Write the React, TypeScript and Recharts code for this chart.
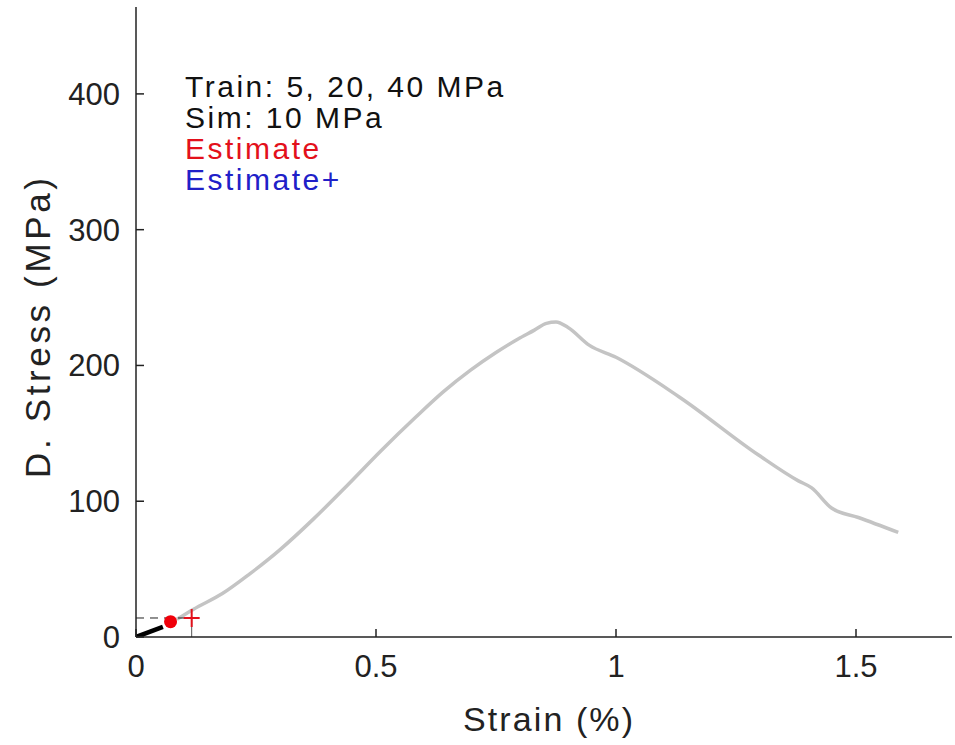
import { ComposedChart, Line, Scatter, XAxis, YAxis } from "recharts";

// curva gris (simulación)
const simStrain = [0.085, 0.12, 0.18, 0.237, 0.299, 0.37, 0.441, 0.51, 0.583, 0.64, 0.697, 0.75, 0.796, 0.83, 0.855, 0.875, 0.9, 0.944, 1.0, 1.131, 1.297, 1.38, 1.407, 1.449, 1.505, 1.588];
const simStress = [13, 20.5, 32, 46.5, 64, 87, 112, 137, 162, 180.5, 196.5, 209.5, 219.5, 226, 231, 232, 228, 215, 206, 177, 134, 115, 110, 95, 88, 77];

// tramo negro de entrenamiento
const trainStrain = [0, 0.056];
const trainStress = [0, 7.4];

// marcadores
const estimate = [{ x: 0.072, y: 11.3 }];
const estimatePlus = [{ x: 0.116, y: 14 }];

// líneas guía
const hGuide = [{ x: 0, y: 14 }, { x: 0.116, y: 14 }];
const vGuide = [{ x: 0.116, y: 0 }, { x: 0.116, y: 14 }];

const xTicks = [0, 0.5, 1, 1.5];
const yTicks = [0, 100, 200, 300, 400];

const simData = simStrain.map((x, i) => ({ x, y: simStress[i] }));
const trainData = trainStrain.map((x, i) => ({ x, y: trainStress[i] }));

const FONT = "'Liberation Sans', Arial, sans-serif";

const PlusShape = (props: any) => {
    const { cx, cy } = props;
    return (
        <g stroke="#e3101b" strokeWidth={2}>
            <line x1={cx - 8} y1={cy} x2={cx + 8} y2={cy} />
            <line x1={cx} y1={cy - 9} x2={cx} y2={cy + 9} />
        </g>
    );
};

const DotShape = (props: any) => {
    const { cx, cy } = props;
    return <circle cx={cx} cy={cy} r={6.5} fill="#f0000a" />;
};

const YTitle = ({ viewBox }: any) => {
    const cx = 37;
    const cy = viewBox.y + viewBox.height / 2 + 6;
    return (
        <text x={cx} y={cy} transform={`rotate(-90 ${cx} ${cy})`} textAnchor="middle" dominantBaseline="central" fontSize={35} fill="#222" fontFamily={FONT} textLength={300} lengthAdjust="spacing">
            D. Stress (MPa)
        </text>
    );
};

const XTitle = ({ viewBox }: any) => {
    const cx = viewBox.x + viewBox.width / 2;
    return (
        <text x={cx + 4} y={731} textAnchor="middle" fontSize={34} fill="#222" fontFamily={FONT} textLength={170} lengthAdjust="spacing">
            Strain (%)
        </text>
    );
};

const notes = [
    { text: "Train: 5, 20, 40 MPa", color: "#111" },
    { text: "Sim: 10 MPa", color: "#111" },
    { text: "Estimate", color: "#e3101b" },
    { text: "Estimate+", color: "#2020c8" },
];

export default function App() {
    return (
        <div style={{ position: "absolute", left: 0, top: 0, width: 955, height: 745, background: "#fff" }}>
            <ComposedChart width={955} height={745} margin={{ top: 7, right: 3, left: 0, bottom: 48 }}>
                <XAxis
                    type="number"
                    dataKey="x"
                    domain={[0, 1.7]}
                    ticks={xTicks}
                    allowDataOverflow
                    height={60}
                    stroke="#222"
                    strokeWidth={1.5}
                    tickSize={-8}
                    tickMargin={26}
                    tick={{ fill: "#222", fontSize: 31, fontFamily: FONT }}
                    label={<XTitle />}
                />
                <YAxis
                    type="number"
                    dataKey="y"
                    domain={[0, 464]}
                    ticks={yTicks}
                    allowDataOverflow
                    width={136}
                    stroke="#222"
                    strokeWidth={1.5}
                    tickSize={-8}
                    tickMargin={24}
                    tick={{ fill: "#222", fontSize: 31, fontFamily: FONT }}
                    label={<YTitle />}
                />

                {/* Curva simulada */}
                <Line data={simData} dataKey="y" type="monotone" stroke="#c4c4c4" strokeWidth={3.5} dot={false} isAnimationActive={false} />

                {/* Guías */}
                <Line data={hGuide} dataKey="y" stroke="#222" strokeWidth={1} strokeDasharray="8 6" dot={false} isAnimationActive={false} />
                <Line data={vGuide} dataKey="y" stroke="#555" strokeWidth={1} dot={false} isAnimationActive={false} />

                {/* Entrenamiento */}
                <Line data={trainData} dataKey="y" stroke="#000" strokeWidth={4.5} dot={false} isAnimationActive={false} />

                <Scatter data={estimate} dataKey="y" shape={<DotShape />} isAnimationActive={false} />
                <Scatter data={estimatePlus} dataKey="y" shape={<PlusShape />} isAnimationActive={false} />
            </ComposedChart>

            <div style={{ position: "absolute", left: 185, top: 71, fontFamily: FONT, fontSize: 30, lineHeight: "31px", letterSpacing: 2.5 }}>
                {notes.map((n) => (
                    <div key={n.text} style={{ color: n.color }}>{n.text}</div>
                ))}
            </div>
        </div>
    );
}
